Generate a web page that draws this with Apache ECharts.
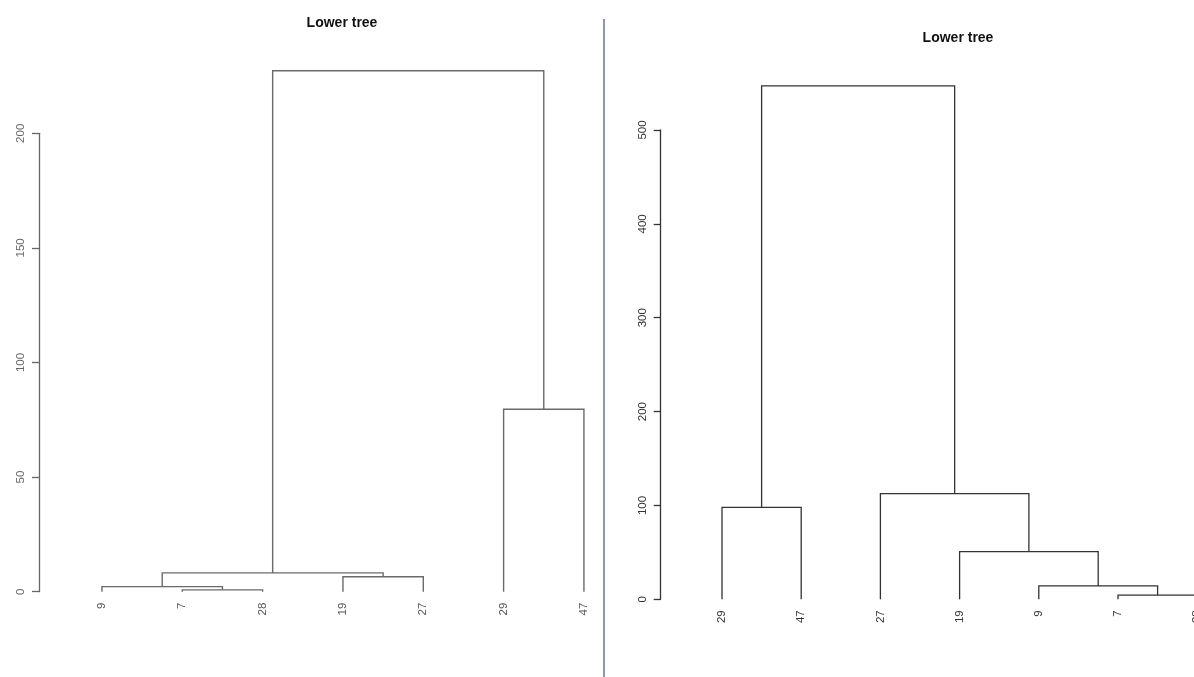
<!DOCTYPE html>
<html>
<head>
<meta charset="utf-8">
<title>Lower tree</title>
<script src="https://cdn.jsdelivr.net/npm/echarts@6/dist/echarts.min.js"></script>
<style>
  html, body { margin: 0; padding: 0; background: #fff; }
  #main { width: 1194px; height: 677px; }
</style>
</head>
<body>
<div id="main"></div>
<script>
// left tree: leaf order, R style merge table (negative = leaf, positive = earlier step) and heights
var leftLeaves = ['9', '7', '28', '19', '27', '29', '47'];
var leftMerge = [[-2, -3], [-1, 1], [-4, -5], [2, 3], [-6, -7], [4, 5]];
var leftHeights = [0.8, 2.2, 6.5, 8.2, 79.6, 227.3];
var leftTicks = [0, 50, 100, 150, 200];

// right tree
var rightLeaves = ['29', '47', '27', '19', '9', '7', '28'];
var rightMerge = [[-1, -2], [-6, -7], [-5, 2], [-4, 3], [-3, 4], [1, 5]];
var rightHeights = [98, 4.4, 14.2, 50.7, 112.5, 547];
var rightTicks = [0, 100, 200, 300, 400, 500];

var FONT = '"Liberation Sans", Arial, sans-serif';

// turn merge table into U shaped links: [xLeft, xRight, height, hLeft, hRight]
function links(merge, heights) {
  var pos = [], hgt = [], out = [];
  function child(k) {
    return k < 0 ? [-k - 1, 0] : [pos[k - 1], hgt[k - 1]];
  }
  merge.forEach(function (m, i) {
    var a = child(m[0]), b = child(m[1]);
    out.push([a[0], b[0], heights[i], a[1], b[1]]);
    pos.push((a[0] + b[0]) / 2);
    hgt.push(heights[i]);
  });
  return out;
}

function drawLink(color, width) {
  return function (params, api) {
    var p1 = api.coord([api.value(0), api.value(3)]);
    var p2 = api.coord([api.value(0), api.value(2)]);
    var p3 = api.coord([api.value(1), api.value(2)]);
    var p4 = api.coord([api.value(1), api.value(4)]);
    return {
      type: 'polyline',
      shape: { points: [p1, p2, p3, p4] },
      style: { stroke: color, lineWidth: width, fill: null }
    };
  };
}

function yAxisFor(grid, ticks, color, offset) {
  return {
    type: 'value',
    gridIndex: grid,
    min: ticks[0],
    max: ticks[ticks.length - 1],
    interval: ticks[1] - ticks[0],
    offset: offset,
    axisLine: { show: true, onZero: false, lineStyle: { color: color, width: 1.3 } },
    axisTick: { show: true, length: 7, lineStyle: { color: color, width: 1.3 } },
    axisLabel: { rotate: 90, margin: 12, color: color, fontSize: 11.5, fontFamily: FONT },
    splitLine: { show: false }
  };
}

function catAxis(grid, leaves, color) {
  return {
    type: 'category',
    gridIndex: grid,
    data: leaves,
    boundaryGap: true,
    axisLine: { show: false, onZero: false },
    axisTick: { show: false },
    axisLabel: { rotate: 90, margin: 11, interval: 0, color: color, fontSize: 11.5, fontFamily: FONT }
  };
}

function posAxis(grid, leaves) {
  return { type: 'value', gridIndex: grid, show: false, min: -0.5, max: leaves.length - 0.5 };
}

var chart = echarts.init(document.getElementById('main'));

var option = {
  backgroundColor: '#fff',
  animation: false,
  grid: [
    { left: 61.8, width: 562.3, top: 133.3, bottom: 85.3, outerBoundsMode: 'none' },
    { left: 682.4, width: 554.4, top: 130, bottom: 77.7, outerBoundsMode: 'none' }
  ],
  xAxis: [
    catAxis(0, leftLeaves, '#555'),
    posAxis(0, leftLeaves),
    catAxis(1, rightLeaves, '#333'),
    posAxis(1, rightLeaves)
  ],
  yAxis: [
    yAxisFor(0, leftTicks, '#666', 22.8),
    yAxisFor(1, rightTicks, '#333', 21.7)
  ],
  graphic: [
    {
      type: 'text', x: 342, y: 23,
      style: { text: 'Lower tree', align: 'center', verticalAlign: 'middle',
               fontSize: 14, fontWeight: 'bold', fontFamily: FONT, fill: '#111' }
    },
    {
      type: 'text', x: 958, y: 38,
      style: { text: 'Lower tree', align: 'center', verticalAlign: 'middle',
               fontSize: 14, fontWeight: 'bold', fontFamily: FONT, fill: '#111' }
    },
    {
      type: 'line',
      shape: { x1: 604, y1: 19, x2: 604, y2: 677 },
      style: { stroke: '#72728e', lineWidth: 1.5 }
    }
  ],
  series: [
    {
      type: 'custom',
      xAxisIndex: 1,
      yAxisIndex: 0,
      clip: false,
      renderItem: drawLink('#6a6a6a', 1.4),
      data: links(leftMerge, leftHeights)
    },
    {
      type: 'custom',
      xAxisIndex: 3,
      yAxisIndex: 1,
      clip: false,
      renderItem: drawLink('#333', 1.3),
      data: links(rightMerge, rightHeights)
    }
  ]
};

chart.setOption(option);
</script>
</body>
</html>
